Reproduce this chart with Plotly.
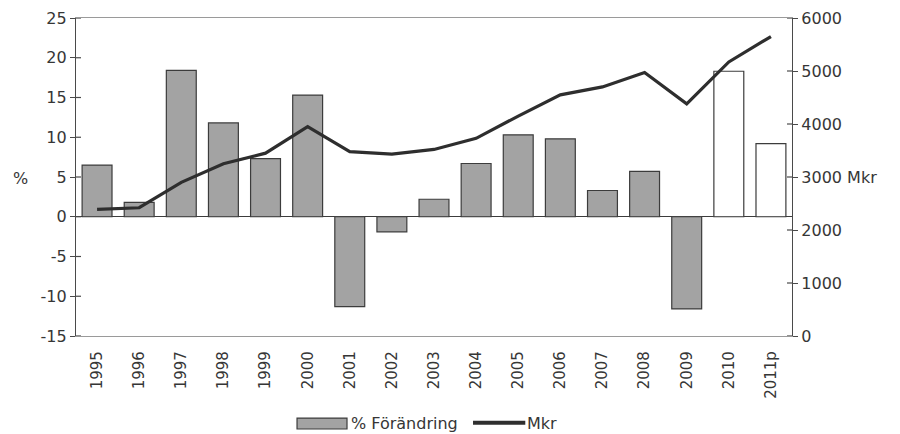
import plotly.graph_objects as go

years = ["1995", "1996", "1997", "1998", "1999", "2000", "2001", "2002", "2003",
         "2004", "2005", "2006", "2007", "2008", "2009", "2010", "2011p"]
pct_change = [6.5, 1.8, 18.4, 11.8, 7.3, 15.3, -11.3, -1.9, 2.2,
              6.7, 10.3, 9.8, 3.3, 5.7, -11.6, 18.3, 9.2]
mkr = [2390, 2420, 2900, 3250, 3450, 3950, 3480, 3430, 3520,
       3730, 4150, 4550, 4700, 4970, 4380, 5170, 5650]
forecast_years = {"2010", "2011p"}

left_ticks = [-15, -10, -5, 0, 5, 10, 15, 20, 25]
left_ticktext = ["-15", "-10", "-5", "0", "5", "10", "15", "20", "25"]
right_ticks = [0, 1000, 2000, 3000, 4000, 5000, 6000]
right_ticktext = ["0", "1000", "2000", "3000 Mkr", "4000", "5000", "6000"]

FONT = "DejaVu Sans, Verdana, sans-serif"
TXT = "#363636"
AX = "#4a4a4a"
BAR_GREY = "#a3a3a3"
LINE_COL = "#2e2e2e"

bar_fill = ["#ffffff" if y in forecast_years else BAR_GREY for y in years]

fig = go.Figure()
fig.add_trace(go.Bar(
    x=years, y=pct_change, name="% Förändring",
    marker=dict(color=bar_fill, line=dict(color="#3c3c3c", width=1.2)),
    yaxis="y", showlegend=False,
))
fig.add_trace(go.Scatter(
    x=years, y=mkr, name="Mkr", mode="lines",
    line=dict(color=LINE_COL, width=3.2),
    yaxis="y2", showlegend=False,
))

# cross-style tick marks: the inside half of each tick on both value axes
shapes = []
for v in left_ticks:
    shapes.append(dict(type="line", xref="paper", yref="y", xsizemode="pixel",
                       xanchor=0, x0=0, x1=5, y0=v, y1=v,
                       line=dict(color=AX, width=1.2)))
for v in right_ticks:
    shapes.append(dict(type="line", xref="paper", yref="y2", xsizemode="pixel",
                       xanchor=1, x0=-5, x1=0, y0=v, y1=v,
                       line=dict(color=AX, width=1.2)))

# legend under the chart: wide bar swatch + thick line swatch
shapes.append(dict(type="rect", xref="paper", yref="paper",
                   x0=0.3087, x1=0.3785, y0=-0.2925, y1=-0.258,
                   fillcolor=BAR_GREY, line=dict(color="#3c3c3c", width=1.2)))
shapes.append(dict(type="line", xref="paper", yref="paper",
                   x0=0.5545, x1=0.6275, y0=-0.273, y1=-0.273,
                   line=dict(color=LINE_COL, width=4)))

annotations = [
    dict(text="%", xref="paper", yref="y", x=-0.0775, y=4.8,
         xanchor="center", yanchor="middle", showarrow=False,
         font=dict(size=16, color=TXT)),
    dict(text="% Förändring", xref="paper", yref="paper", x=0.3815, y=-0.275,
         xanchor="left", yanchor="middle", showarrow=False,
         font=dict(size=16, color=TXT)),
    dict(text="Mkr", xref="paper", yref="paper", x=0.6275, y=-0.275,
         xanchor="left", yanchor="middle", showarrow=False,
         font=dict(size=16, color=TXT)),
]

fig.update_layout(
    width=900, height=434,
    margin=dict(l=76, r=108, t=18, b=98, autoexpand=False),
    paper_bgcolor="white", plot_bgcolor="white",
    font=dict(family=FONT, size=16, color=TXT),
    bargap=0.29,
    showlegend=False,
    xaxis=dict(
        type="category", tickangle=-90, tickfont=dict(size=15, color=TXT),
        showline=True, linecolor="#9a9a9a", linewidth=1.2, mirror=True,
        ticks="", showgrid=False, automargin=False, ticklabelstandoff=8,
    ),
    yaxis=dict(
        range=[-15, 25], tickvals=left_ticks, ticktext=left_ticktext,
        ticks="outside", ticklen=5,
        tickcolor=AX, tickwidth=1.2,
        showline=True, linecolor=AX, linewidth=1.2,
        showgrid=False, zeroline=True, zerolinecolor="#3c3c3c", zerolinewidth=1.2,
        tickfont=dict(size=16, color=TXT), automargin=False,
    ),
    yaxis2=dict(
        range=[0, 6000], tickvals=right_ticks, ticktext=right_ticktext,
        overlaying="y", side="right", ticks="outside", ticklen=5,
        tickcolor=AX, tickwidth=1.2,
        showline=True, linecolor=AX, linewidth=1.2,
        showgrid=False, zeroline=False,
        tickfont=dict(size=16, color=TXT), automargin=False,
    ),
    shapes=shapes,
    annotations=annotations,
)

fig.write_html("out.html")
